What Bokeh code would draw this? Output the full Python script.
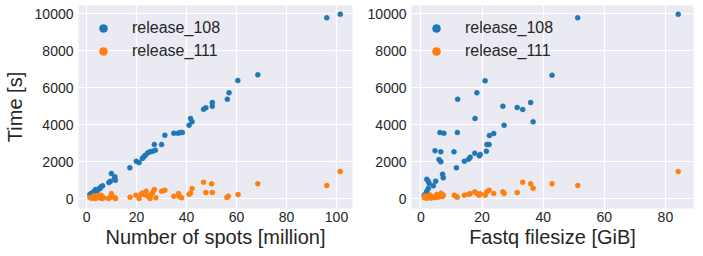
from bokeh.plotting import figure
from bokeh.layouts import row
from bokeh.models import FixedTicker, Range1d, Legend, LegendItem
from bokeh.embed import file_html
from bokeh.resources import INLINE

# ---- data ----
series_names = ["release_108", "release_111"]
colors = ["#1f77b4", "#ff7f0e"]

# Left panel: number of spots [million] vs time [s]
spots_108 = [1.3, 1.8, 2.8, 3.5, 3.6, 4.2, 5.1, 5.4, 5.8, 6.4, 8.9, 9.5, 9.9, 11.5, 11.3, 11.2,
             17.3, 19.9, 21.0, 22.3, 22.9, 23.5, 24.5, 25.4, 26.4, 27.5, 27.1, 30.0, 31.3,
             34.9, 36.6, 37.5, 38.3, 41.0, 41.6, 42.2, 46.8, 47.7, 50.3, 50.3, 56.3, 57.0,
             60.5, 68.5, 96.1, 101.5]
time_spots_108 = [232, 286, 378, 465, 503, 420, 557, 557, 649, 703, 881, 951, 1368, 1005, 1189, 1097,
                  1676, 2032, 1962, 2178, 2270, 2357, 2486, 2541, 2573, 2627, 2935, 2935, 3438,
                  3546, 3546, 3584, 3584, 3978, 4341, 4162, 4843, 4919, 5205, 5005, 5384, 5730,
                  6395, 6703, 9784, 9978]
spots_111 = [1.3, 2.2, 2.9, 3.6, 4.3, 5.4, 5.8, 6.2, 6.8, 8.7, 9.3, 9.9, 11.2, 11.6,
             17.4, 19.7, 21.0, 21.7, 22.3, 23.2, 23.8, 24.5, 25.4, 25.8, 26.4, 27.1, 27.7,
             30.0, 31.3, 34.9, 36.8, 37.0, 38.0, 41.0, 41.6, 42.2, 46.8, 47.7, 50.0, 50.3,
             56.1, 56.7, 60.6, 68.5, 96.1, 101.5]
time_spots_111 = [70, 16, 162, 16, 162, 54, 195, 16, 54, 16, 70, 286, 70, 16,
                  88, 195, 16, 232, 303, 232, 411, 141, 16, 232, 340, 503, 54,
                  411, 465, 141, 286, 141, 54, 249, 303, 557, 897, 340, 811, 340,
                  70, 141, 232, 811, 719, 1476]

# Right panel: fastq filesize [GiB] vs time [s]
size_108 = [1.06, 1.6, 1.9, 2.4, 1.9, 2.4, 2.7, 4.05, 4.8, 4.6, 5.9, 6.5, 6.5, 6.2, 7.5,
            7.07, 7.27, 10.8, 11.6, 11.9, 12.0, 14.2, 15.6, 16.1, 17.6, 17.7, 18.3, 19.1,
            19.4, 21.0, 21.4, 21.6, 22.3, 22.4, 23.8, 26.8, 27.2, 31.5, 33.3, 35.9, 36.7,
            42.9, 51.3, 84.2]
time_size_108 = [195, 286, 411, 557, 1059, 951, 827, 703, 951, 2595, 2124, 2000, 2540, 3584, 3546,
                 1330, 1135, 2540, 1676, 3584, 5384, 2032, 2141, 2249, 2465, 4341, 5730, 2324,
                 2395, 6378, 2573, 2935, 2935, 3422, 3530, 5005, 3978, 4935, 4827, 5205, 4162,
                 6681, 9784, 9978]
size_111 = [1.1, 1.3, 1.5, 1.9, 2.2, 2.5, 3.0, 3.3, 4.0, 4.7, 5.2, 5.6, 6.2, 6.6, 7.1, 7.3,
            10.9, 11.6, 11.9, 14.2, 15.6, 16.1, 17.6, 18.3, 19.1, 19.4, 21.0, 21.6, 22.3,
            23.8, 26.8, 27.2, 31.5, 33.3, 35.9, 36.7, 42.9, 51.3, 84.2]
time_size_111 = [60, 150, 120, 30, 150, 80, 200, 40, 100, 60, 230, 90, 130, 300, 120, 200,
                 195, 124, 88, 195, 250, 268, 378, 286, 195, 268, 195, 378, 465,
                 286, 378, 286, 340, 897, 811, 573, 811, 719, 1476]

y_ticks = [0, 2000, 4000, 6000, 8000, 10000]
x_ticks_left = [0, 20, 40, 60, 80, 100]
x_ticks_right = [0, 20, 40, 60, 80]

TEXT = "#262626"
FONT = "Liberation Sans"
BG = "#EAEAF2"


def make_fig(width, xr, xticks, xlabel, ylabel, border_left):
    p = figure(width=width, height=250, output_backend="svg", toolbar_location=None,
               x_range=Range1d(*xr), y_range=Range1d(-524, 10449),
               min_border_left=border_left, min_border_right=2, min_border_top=5,
               min_border_bottom=10)
    p.background_fill_color = BG
    p.border_fill_color = "white"
    p.outline_line_color = None
    for ax in (p.xaxis, p.yaxis):
        ax.axis_line_color = None
        ax.major_tick_line_color = None
        ax.minor_tick_line_color = None
        ax.major_tick_out = 0
        ax.major_tick_in = 0
        ax.major_label_text_font = FONT
        ax.major_label_text_font_size = "14px"
        ax.major_label_text_color = TEXT
        ax.axis_label_text_font = FONT
        ax.axis_label_text_font_size = "20px"
        ax.axis_label_text_font_style = "normal"
        ax.axis_label_text_color = TEXT
    p.xaxis.major_label_standoff = 3
    p.yaxis.major_label_standoff = 5
    p.xaxis.axis_label_standoff = 1
    p.yaxis.axis_label_standoff = 6
    p.xaxis.ticker = FixedTicker(ticks=xticks)
    p.yaxis.ticker = FixedTicker(ticks=y_ticks)
    p.xaxis.axis_label = xlabel
    if ylabel:
        p.yaxis.axis_label = ylabel
    p.grid.grid_line_color = "white"
    p.grid.grid_line_width = 1.2
    return p


def add_series(p, xs_list, ys_list):
    items = []
    for name, c, xs, ys in zip(series_names, colors, xs_list, ys_list):
        r = p.scatter(xs, ys, size=5, fill_color=c, line_color=c, line_width=0.5)
        items.append(LegendItem(label=name, renderers=[r]))
    leg = Legend(items=items, location="top_left", margin=13, padding=0,
                 glyph_width=24, glyph_height=20, label_standoff=17, spacing=3,
                 label_text_font=FONT, label_text_font_size="16px",
                 label_text_color=TEXT, background_fill_alpha=0,
                 border_line_color=None)
    p.add_layout(leg)


p1 = make_fig(354, (-3.25, 106.4), x_ticks_left, "Number of spots [million]", "Time [s]", 65)
add_series(p1, [spots_108, spots_111], [time_spots_108, time_spots_111])

p2 = make_fig(341, (-3.1, 89.2), x_ticks_right, "Fastq filesize [GiB]", None, 57)
add_series(p2, [size_108, size_111], [time_size_108, time_size_111])

layout = row(p1, p2)
open("out.html", "w").write(file_html(layout, INLINE))
